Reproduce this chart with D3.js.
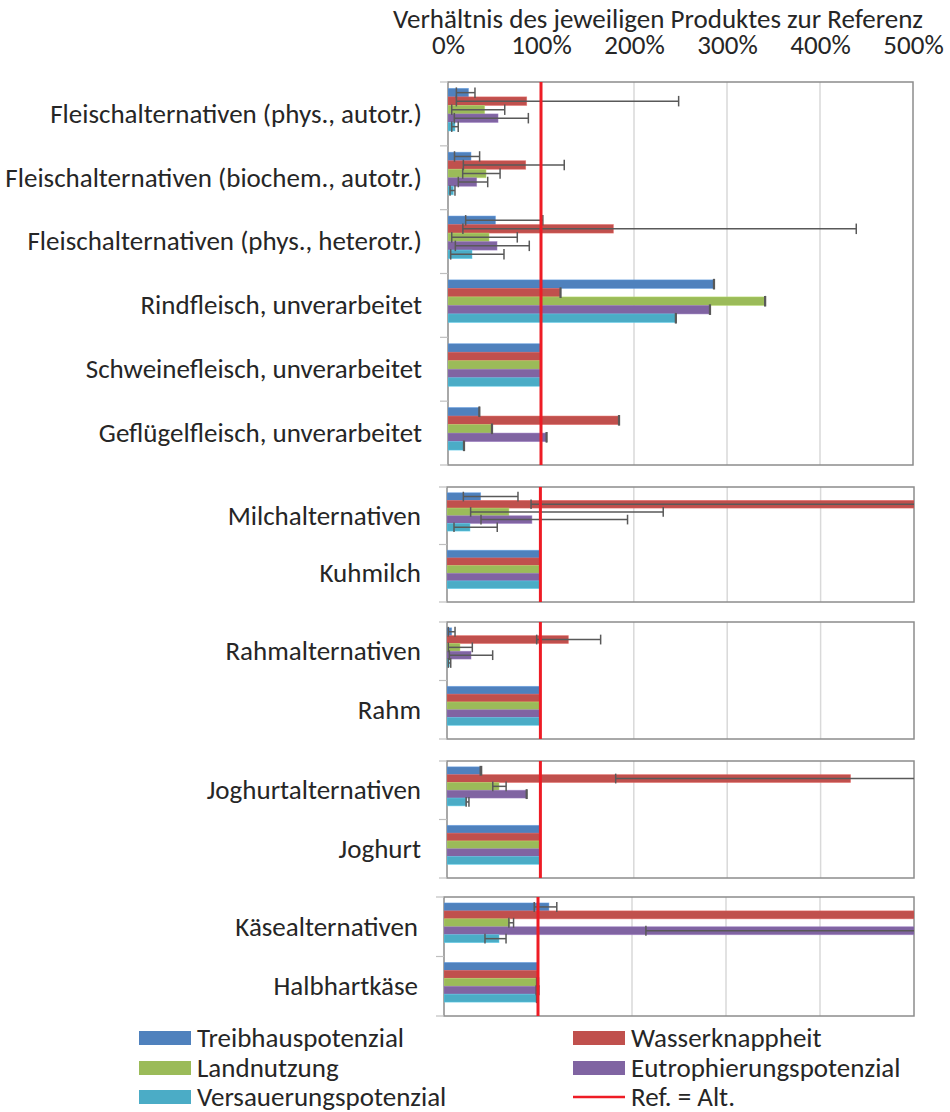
<!DOCTYPE html>
<html>
<head>
<meta charset="utf-8">
<script src="https://cdn.jsdelivr.net/npm/d3@7"></script>
<style>
  html, body { margin: 0; padding: 0; background: #fff; }
  svg text { font-family: Carlito, Calibri, "Open Sans", Lato, sans-serif; fill: #262626; }
</style>
</head>
<body>
<svg id="chart" width="950" height="1112"></svg>
<script>
// Products, grouped into panels (groupSizes gives how many products per panel)
const categories = [
  "Fleischalternativen (phys., autotr.)",
  "Fleischalternativen (biochem., autotr.)",
  "Fleischalternativen (phys., heterotr.)",
  "Rindfleisch, unverarbeitet",
  "Schweinefleisch, unverarbeitet",
  "Geflügelfleisch, unverarbeitet",
  "Milchalternativen",
  "Kuhmilch",
  "Rahmalternativen",
  "Rahm",
  "Joghurtalternativen",
  "Joghurt",
  "Käsealternativen",
  "Halbhartkäse"
];
const groupSizes = [6, 2, 2, 2, 2];

const seriesNames = ["Treibhauspotenzial", "Wasserknappheit", "Landnutzung", "Eutrophierungspotenzial", "Versauerungspotenzial"];
const seriesColors = ["#4F81BD", "#C0504D", "#9BBB59", "#8064A2", "#4BACC6"];

// Ratio to the reference product, in percent
const treibhaus = [22, 24.7, 51, 286, 100, 33.7, 36, 100, 5, 100, 36, 100, 111.6, 99];
const wasser    = [84.6, 83.5, 177.8, 121, 100, 183.9, 620, 100, 129.9, 100, 432, 100, 650, 99.5];
const land      = [39.4, 40.9, 44.1, 341, 100, 47.3, 66.3, 100, 13.9, 100, 55.7, 100, 70, 99];
const eutroph   = [53.8, 30.8, 52.7, 281.7, 100, 106, 90.9, 100, 25.7, 100, 85.3, 100, 650, 99];
const versauer  = [7.5, 5.7, 25.8, 245, 100, 17.2, 24.6, 100, 2.5, 100, 21, 100, 58.5, 99];

// Error ranges [low, high] in percent, null where no range is shown
const treibhausErr = [[9, 29], [7, 34], [19, 102], [285.6, 286.4], null, [33.3, 34.1], [17.5, 76], null, [1.4, 8.6], null, [35.6, 37], null, [96, 120], null];
const wasserErr    = [[9, 248], [16.5, 125], [16, 439], [120.6, 121.4], null, [183.5, 184.3], [90, 900], null, [96, 164.5], null, [180.6, 700], null, null, null];
const landErr      = [[4, 61], [15.8, 56], [4, 74.5], [340.6, 341.4], null, [46.9, 47.7], [25.3, 231.5], null, [1.4, 27.1], null, [49, 63.3], null, [69, 74], [98.5, 100.5]];
const eutrophErr   = [[6.8, 86.4], [11.1, 42.7], [7.9, 87.4], [281.3, 282.1], null, [105.6, 106.4], [36.4, 193.3], null, [2.5, 48.9], null, [84.9, 85.7], null, [214.8, 800], [98, 101]];
const versauerErr  = [[4, 11], [2.2, 7.5], [2.9, 60.2], [244.6, 245.4], null, [16.8, 17.6], [7.5, 53.8], null, [1.4, 4], null, [20.5, 23.5], null, [43.6, 66], [98.5, 99.5]];

const tickValues = [0, 100, 200, 300, 400, 500];
const tickLabels = ["0%", "100%", "200%", "300%", "400%", "500%"];
const axisTitle = "Verhältnis des jeweiligen Produktes zur Referenz";
const refLabel = "Ref. = Alt.";
const refValue = 100;

const seriesValues = [treibhaus, wasser, land, eutroph, versauer];
const seriesErrors = [treibhausErr, wasserErr, landErr, eutrophErr, versauerErr];

// Panel frames (pixel layout)
const panelFrames = [
  { top: 82,  bottom: 465,  left: 448, right: 913 },
  { top: 487, bottom: 602,  left: 447, right: 914 },
  { top: 622, bottom: 739,  left: 447, right: 914 },
  { top: 761, bottom: 878,  left: 447, right: 914 },
  { top: 897, bottom: 1016, left: 444, right: 914 }
];

const svg = d3.select("#chart");
svg.append("rect").attr("width", 950).attr("height", 1112).attr("fill", "#fff");

const FONT = 27;
const FONT_FAMILY = "Carlito, Calibri, 'Open Sans', Lato, sans-serif";
const slotKeys = seriesNames.concat(["_ref"]);

let start = 0;
groupSizes.forEach((size, p) => {
  const f = panelFrames[p];
  const idx = d3.range(start, start + size);
  start += size;

  const x = d3.scaleLinear().domain([0, 500]).range([f.left, f.right]);
  const y = d3.scaleBand().domain(idx).range([f.top, f.bottom]).padding(0);
  const ySub = d3.scaleBand().domain(slotKeys).range([0, y.bandwidth()]).paddingInner(0).paddingOuter(0.75);

  const g = svg.append("g");
  const clipId = "clip" + p;
  svg.append("clipPath").attr("id", clipId)
    .append("rect").attr("x", f.left).attr("y", f.top)
    .attr("width", f.right - f.left).attr("height", f.bottom - f.top);

  // vertical gridlines
  g.selectAll("line.grid").data(tickValues.filter(v => v > 0 && v < 500)).join("line")
    .attr("x1", d => x(d)).attr("x2", d => x(d))
    .attr("y1", f.top).attr("y2", f.bottom)
    .attr("stroke", "#d9d9d9").attr("stroke-width", 1.5);

  // frame
  g.append("rect")
    .attr("x", f.left).attr("y", f.top)
    .attr("width", f.right - f.left).attr("height", f.bottom - f.top)
    .attr("fill", "none").attr("stroke", "#8c8c8c").attr("stroke-width", 1.5);

  // category boundary ticks on the left axis
  const bounds = idx.map(i => y(i)).concat([f.bottom]);
  g.selectAll("line.tick").data(bounds).join("line")
    .attr("x1", f.left - 8).attr("x2", f.left)
    .attr("y1", d => d).attr("y2", d => d)
    .attr("stroke", "#bfbfbf").attr("stroke-width", 1.2);

  // category labels
  g.selectAll("text.cat").data(idx).join("text")
    .attr("x", f.left - 26)
    .attr("y", i => y(i) + y.bandwidth() / 2)
    .attr("dy", "0.33em")
    .attr("text-anchor", "end")
    .attr("font-size", FONT)
    .text(i => categories[i]);

  const plot = svg.append("g").attr("clip-path", `url(#${clipId})`);

  // bars
  seriesNames.forEach((name, s) => {
    plot.selectAll(null).data(idx).join("rect")
      .attr("x", x(0))
      .attr("y", i => y(i) + ySub(name))
      .attr("width", i => Math.max(0, x(seriesValues[s][i]) - x(0)))
      .attr("height", ySub.bandwidth())
      .attr("fill", seriesColors[s])
      .attr("stroke", d3.color(seriesColors[s]).brighter(0.5))
      .attr("stroke-opacity", 0.6)
      .attr("stroke-width", 0.8);
  });

  // error bars
  seriesNames.forEach((name, s) => {
    const withErr = idx.filter(i => seriesErrors[s][i]);
    const eb = plot.selectAll(null).data(withErr).join("g")
      .attr("transform", i => `translate(0,${y(i) + ySub(name) + ySub.bandwidth() / 2})`);
    const h = ySub.bandwidth() / 2 + 1;
    eb.append("line")
      .attr("x1", i => x(seriesErrors[s][i][0])).attr("x2", i => x(seriesErrors[s][i][1]))
      .attr("y1", 0).attr("y2", 0);
    eb.append("line")
      .attr("x1", i => x(seriesErrors[s][i][0])).attr("x2", i => x(seriesErrors[s][i][0]))
      .attr("y1", -h).attr("y2", h);
    eb.append("line")
      .attr("x1", i => x(seriesErrors[s][i][1])).attr("x2", i => x(seriesErrors[s][i][1]))
      .attr("y1", -h).attr("y2", h);
    eb.selectAll("line").attr("stroke", "#595959").attr("stroke-width", 1.5);
  });

  // reference line (alternative equals reference)
  svg.append("line")
    .attr("x1", x(refValue)).attr("x2", x(refValue))
    .attr("y1", f.top).attr("y2", f.bottom)
    .attr("stroke", "#ee1c25").attr("stroke-width", 3);

  // top axis on the first panel only
  if (p === 0) {
    const axis = d3.axisTop(x).tickValues(tickValues)
      .tickFormat((d, i) => tickLabels[i]).tickSize(0).tickPadding(28);
    const ag = svg.append("g").attr("transform", `translate(0,${f.top})`).call(axis);
    ag.select(".domain").remove();
    ag.selectAll("text").attr("font-size", FONT).attr("fill", "#262626")
      .attr("font-family", FONT_FAMILY);
    svg.append("text")
      .attr("x", 658).attr("y", 28)
      .attr("text-anchor", "middle")
      .attr("font-size", FONT)
      .text(axisTitle);
  }
});

// legend: two columns, filled row by row
const legendItems = seriesNames.map((n, i) => ({ name: n, color: seriesColors[i], type: "rect" }))
  .concat([{ name: refLabel, color: "#ee1c25", type: "line" }]);
const legend = svg.append("g");
const colX = [139, 573];
const rowY = [1038, 1068, 1097];
legendItems.forEach((d, i) => {
  const cx = colX[i % 2], cy = rowY[Math.floor(i / 2)];
  const lg = legend.append("g").attr("transform", `translate(${cx},${cy})`);
  if (d.type === "rect") {
    lg.append("rect").attr("x", 0).attr("y", -7).attr("width", 52).attr("height", 14).attr("fill", d.color);
  } else {
    lg.append("line").attr("x1", 0).attr("x2", 52).attr("y1", 0).attr("y2", 0)
      .attr("stroke", d.color).attr("stroke-width", 2.5);
  }
  lg.append("text").attr("x", 58).attr("y", 0).attr("dy", "0.33em")
    .attr("font-size", FONT).text(d.name);
});
</script>
</body>
</html>
